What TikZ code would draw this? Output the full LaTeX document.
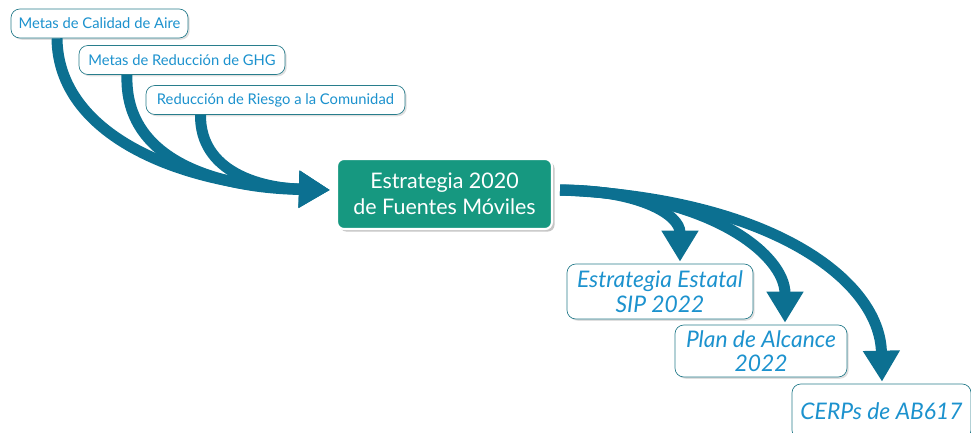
\documentclass[tikz,border=0pt]{standalone}
\usepackage{fontspec}
\setmainfont{Lato}
\usetikzlibrary{arrows.meta,calc,shadows}

\definecolor{flowblue}{RGB}{12,112,145}
\definecolor{boxline}{RGB}{40,125,140}
\definecolor{labelblue}{RGB}{28,146,206}
\definecolor{mainfill}{RGB}{22,152,128}

\tikzset{
  goalbox/.style={draw=boxline, rounded corners=5pt, fill=white, text=labelblue,
    font=\fontsize{8.4}{9}\selectfont, inner sep=2pt, minimum height=0.58cm,
    drop shadow={opacity=0.25, shadow xshift=1pt, shadow yshift=-1pt}},
  planbox/.style={goalbox, font=\fontsize{13}{14}\selectfont\itshape, align=center},
  mainbox/.style={draw=white, line width=1.2pt, rounded corners=4pt, fill=mainfill,
    text=white, font=\fontsize{12.2}{14.5}\selectfont, align=center,
    minimum width=4.3cm, minimum height=1.4cm,
    drop shadow={opacity=0.45, shadow xshift=1.5pt, shadow yshift=-1.5pt}},
  flow/.style={draw=flowblue, line width=0.22cm,
    -{Triangle[length=0.62cm,width=0.7cm]}}
}

\begin{document}
\begin{tikzpicture}[x=0.02cm,y=-0.02cm]
  \useasboundingbox (0,0) rectangle (971,433);

  % inputs
  \node[goalbox, minimum width=3.54cm] (goal1) at (99.5,23.5) {Metas de Calidad de Aire};
  \node[goalbox, minimum width=4.12cm] (goal2) at (182,60) {Metas de Reducción de GHG};
  \node[goalbox, minimum width=5.18cm] (goal3) at (275.5,100) {Reducción de Riesgo a la Comunidad};

  \node[mainbox] (main) at (444.5,194) {Estrategia 2020\\de Fuentes Móviles};

  % outputs
  \node[planbox, minimum width=3.72cm, minimum height=1.1cm] (plan1) at (660,291.5) {Estrategia Estatal\\SIP 2022};
  \node[planbox, minimum width=3.44cm, minimum height=1.04cm] (plan2) at (761,351) {Plan de Alcance\\2022};
  \node[planbox, minimum width=3.58cm, minimum height=1.1cm] (plan3) at (881.5,411.5) {CERPs de AB617};

  % arrows into the strategy
  \draw[flow] ($(goal1.south)+(-42.5,0)$) .. controls (58,135) and (180,185) .. ($(main.west)+(-6,-4)$);
  \draw[flow] ($(goal2.south)+(-55,0)$) .. controls (124,162) and (220,188) .. ($(main.west)+(-6,-4)$);
  \draw[flow] ($(goal3.south)+(-75,0)$) .. controls (200,172) and (260,188) .. ($(main.west)+(-6,-4)$);

  % arrows out of the strategy
  \draw[flow] ($(main.east)+(7,-4)$) .. controls (640,190) and (680,215) .. ($(plan1.north)+(20,-2)$);
  \draw[flow] ($(main.east)+(7,-4)$) .. controls (710,193) and (785,255) .. ($(plan2.north)+(24,-2)$);
  \draw[flow] ($(main.east)+(7,-4)$) .. controls (770,198) and (880,280) .. ($(plan3.north)+(0.5,-2)$);
\end{tikzpicture}
\end{document}
